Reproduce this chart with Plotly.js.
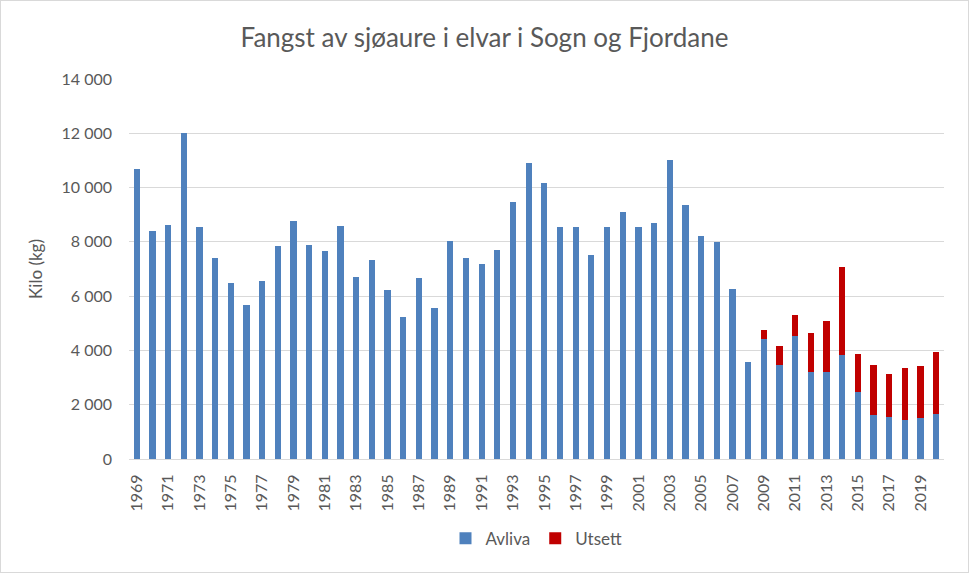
<!DOCTYPE html>
<html>
<head>
<meta charset="utf-8">
<script src="https://cdn.plot.ly/plotly-3.0.1.min.js"></script>
<style>
  body { margin: 0; background: #fff; }
  #chart { width: 967px; height: 571px; border: 1px solid #d9d9d9; }
</style>
</head>
<body>
<div id="chart"></div>
<script>
const years = [];
for (let y = 1969; y <= 2020; y++) years.push(y);

const avliva = [
  10700, 8400, 8620, 12000, 8550, 7410, 6500, 5690, 6570, 7850,
  8770, 7890, 7670, 8580, 6720, 7340, 6240, 5250, 6680, 5580,
  8030, 7410, 7190, 7700, 9460, 10890, 10160, 8550, 8550, 7520,
  8550, 9100, 8550, 8690, 11000, 9350, 8220, 8000, 6280, 3570,
  4410, 3460, 4550, 3200, 3200, 3820, 2470, 1620, 1550, 1440,
  1510, 1660
];

const utsett = [
  0, 0, 0, 0, 0, 0, 0, 0, 0, 0,
  0, 0, 0, 0, 0, 0, 0, 0, 0, 0,
  0, 0, 0, 0, 0, 0, 0, 0, 0, 0,
  0, 0, 0, 0, 0, 0, 0, 0, 0, 0,
  360, 690, 770, 1460, 1900, 3260, 1390, 1840, 1580, 1910,
  1910, 2270
];

const font = "Lato, 'Open Sans', sans-serif";

const data = [
  { x: years, y: avliva, name: "Avliva", type: "bar",
    marker: { color: "#4f81bd" }, hoverinfo: "skip" },
  { x: years, y: utsett, name: "Utsett", type: "bar",
    marker: { color: "#c00000" }, hoverinfo: "skip" }
];

const layout = {
  barmode: "stack",
  bargap: 0.6,
  separators: ", ",
  paper_bgcolor: "#fff",
  plot_bgcolor: "#fff",
  font: { family: font, color: "#595959", size: 16 },
  margin: { l: 128, r: 24, t: 78, b: 113 },
  title: {
    text: "Fangst av sjøaure i elvar i Sogn og Fjordane",
    font: { family: font, size: 26, color: "#595959" },
    x: 0.5, xanchor: "center", y: 0.935, yanchor: "middle"
  },
  xaxis: {
    range: [1968.5, 2020.5],
    tick0: 1969, dtick: 2,
    tickangle: -90,
    showgrid: false,
    zeroline: false,
    showline: true, linecolor: "#d9d9d9", linewidth: 1,
    ticks: "",
    ticklabelstandoff: 8,
    tickfont: { size: 16, color: "#595959" },
    fixedrange: true
  },
  yaxis: {
    range: [0, 14000],
    dtick: 2000,
    tickformat: ",d",
    gridcolor: "#d9d9d9", gridwidth: 1,
    zeroline: false,
    showline: false,
    ticks: "",
    ticklabelstandoff: 16,
    tickfont: { size: 16, color: "#595959" },
    title: { text: "Kilo (kg)", font: { size: 17, color: "#595959" }, standoff: 14 },
    fixedrange: true
  },
  showlegend: true,
  legend: {
    orientation: "h",
    x: 0.5, xanchor: "center",
    y: -0.21, yanchor: "middle",
    itemwidth: 30,
    font: { size: 17, color: "#595959" },
    traceorder: "normal"
  }
};

Plotly.newPlot("chart", data, layout, { staticPlot: true });
</script>
</body>
</html>
